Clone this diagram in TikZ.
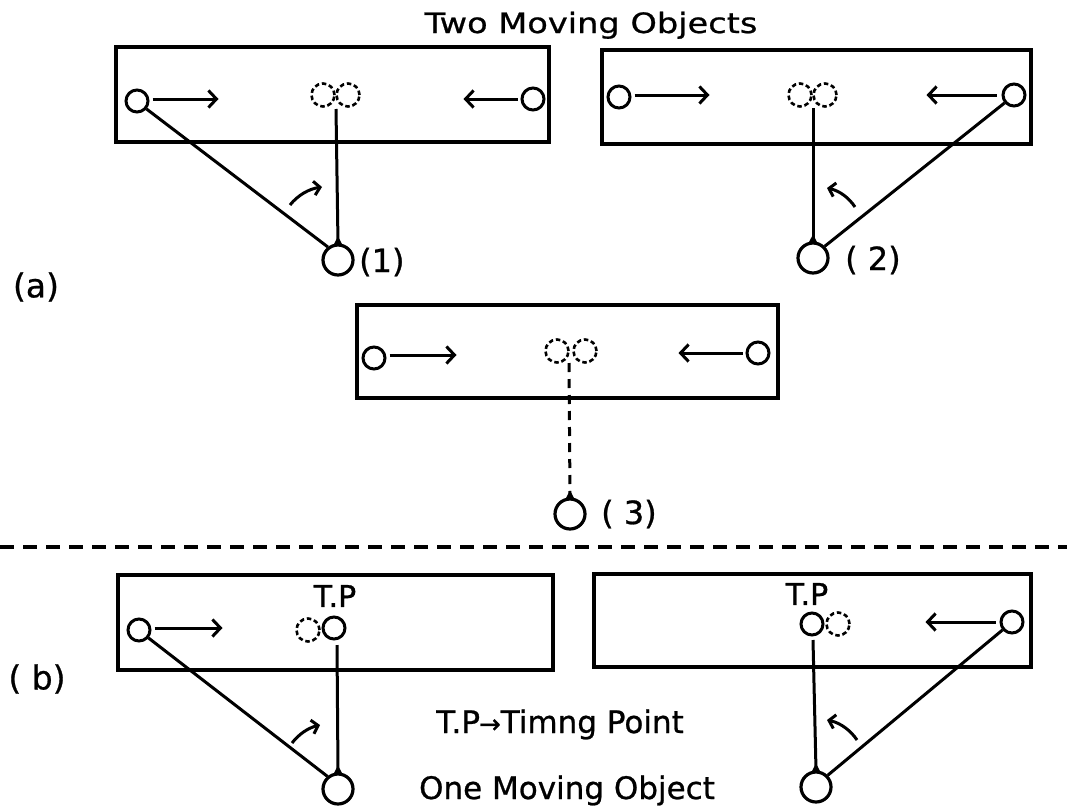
\documentclass[tikz,border=0pt]{standalone}
\usepackage{fontspec}
\setmainfont{DejaVu Sans}[FakeBold=0.8]
\newfontfamily\widefont{DejaVu Sans}[FakeStretch=1.2,FakeBold=0.8]
\usetikzlibrary{arrows.meta}
\begin{document}
\begin{tikzpicture}[x=1pt,y=-1pt,
  obj/.style={circle,draw,line width=3pt,minimum size=22pt,inner sep=0pt},
  ghost/.style={circle,draw,line width=2.6pt,dash pattern=on 4.5pt off 2.8pt,minimum size=23pt,inner sep=0pt},
  obs/.style={circle,draw,line width=3.2pt,minimum size=30pt,inner sep=0pt},
  frame/.style={draw,line width=3.4pt,line join=miter},
  ln/.style={line width=3pt},
  dln/.style={line width=3pt,dash pattern=on 9pt off 7pt},
  sep/.style={line width=3.2pt,dash pattern=on 14pt off 9pt},
  mv/.style={line width=3pt,-{Straight Barb[length=8pt,width=17pt,line width=3pt]}},
  turn/.style={line width=3pt,-{Straight Barb[length=6pt,width=14pt,line width=3pt]}},
  lbl/.style={inner sep=0pt,font=\fontsize{32}{32}\selectfont},
  txt/.style={inner sep=0pt,font=\fontsize{31}{31}\selectfont},
  cusp/.pic={\fill (-5,2.5) -- (0,-7) -- (5,2.5) -- cycle;}
]
\useasboundingbox (0,0) rectangle (1067,811);

% title
\node[inner sep=0pt,anchor=base,font=\widefont\fontsize{28}{28}\selectfont] (title) at (591,33) {Two Moving Objects};

% ---------- (a) box 1
\draw[frame] (116,47) rectangle (549,142);
\node[obj] (a1L) at (137,101) {};
\node[obj] (a1R) at (533,99) {};
\node[ghost] (a1g1) at (323,95) {};
\node[ghost] (a1g2) at (348,95) {};
\coordinate (a1m) at (336,109);
\node[obs] (a1B) at (338,260) {};
\pic at (a1B.north) {cusp};
\draw[mv] (a1L.east) ++(3,-2) -- ++(66,0);
\draw[mv] (a1R.west) ++(-3,0) -- ++(-54,0);
\draw[ln] (a1m) -- (a1B.north);
\draw[ln] (a1L.-40) -- (a1B.128);
\draw[turn] (290,205) .. controls (298,195) and (309,189) .. (322,187);
\node[lbl,anchor=west] (l1) at (359,262) {(1)};

% ---------- (a) box 2
\draw[frame] (602,50) rectangle (1031,144);
\node[obj] (a2L) at (619,97) {};
\node[obj] (a2R) at (1014,95) {};
\node[ghost] (a2g1) at (800,95) {};
\node[ghost] (a2g2) at (825,95) {};
\coordinate (a2m) at (813,108);
\node[obs] (a2B) at (813,258) {};
\pic at (a2B.north) {cusp};
\draw[mv] (a2L.east) ++(3,-2) -- ++(75,0);
\draw[mv] (a2R.west) ++(-5,0) -- ++(-70,0);
\draw[ln] (a2m) -- (a2B.north);
\draw[ln] (a2R.-140) -- (a2B.45);
\draw[turn] (855,207) .. controls (849,198) and (840,191) .. (827,188);
\node[lbl,anchor=west] (l2) at (845,260) {( 2)};

% (a) label
\node[inner sep=0pt,font=\fontsize{33}{33}\selectfont] (la) at (36,287) {(a)};

% ---------- (a) box 3
\draw[frame] (357,305) rectangle (778,398);
\node[obj] (a3L) at (374,358) {};
\node[obj] (a3R) at (758,353) {};
\node[ghost] (a3g1) at (557,351) {};
\node[ghost] (a3g2) at (585,351) {};
\coordinate (a3m) at (569,363);
\node[obs] (a3B) at (570,514) {};
\pic at (a3B.north) {cusp};
\draw[mv] (a3L.east) ++(3,-3) -- ++(67,0);
\draw[mv] (a3R.west) ++(-3,0) -- ++(-64,0);
\draw[dln] (a3m) -- (a3B.north);
\node[lbl,anchor=west] (l3) at (601,514) {( 3)};

% separator
\coordinate (sL) at (0,547);
\coordinate (sR) at (1067,547);
\draw[sep] (sL) -- (sR);

% ---------- (b) box 4
\draw[frame] (118,575) rectangle (553,670);
\node[obj] (b1L) at (139,630) {};
\node[ghost] (b1g) at (308,630) {};
\node[obj] (b1T) at (334,628) {};
\node[lbl,font=\fontsize{30}{30}\selectfont] (tp1) at (335,596) {T.P};
\coordinate (b1m) at (337,645);
\node[obs] (b1B) at (338,789) {};
\pic at (b1B.north) {cusp};
\draw[mv] (b1L.east) ++(3,-2) -- ++(68,0);
\draw[ln] (b1m) -- (b1B.north);
\draw[ln] (b1L.-40) -- (b1B.130);
\draw[turn] (292,743) .. controls (299,734) and (308,728) .. (320,725);

% ---------- (b) box 5
\draw[frame] (594,574) rectangle (1031,667);
\node[obj] (b2T) at (812,624) {};
\node[ghost] (b2g) at (838,624) {};
\node[obj] (b2R) at (1012,622) {};
\node[lbl,font=\fontsize{30}{30}\selectfont] (tp2) at (807,594) {T.P};
\coordinate (b2m) at (813,640);
\node[obs] (b2B) at (816,787) {};
\pic at (b2B.north) {cusp};
\draw[mv] (b2R.west) ++(-4,0) -- ++(-70,0);
\draw[ln] (b2m) -- (b2B.north);
\draw[ln] (b2R.-140) -- (b2B.45);
\draw[turn] (857,740) .. controls (851,731) and (841,723) .. (827,720);

% (b) label and texts
\node[inner sep=0pt,font=\fontsize{33}{33}\selectfont] (lb) at (37,679) {( b)};
\node[txt,anchor=base] (def) at (560,733) {T.P\kern-1pt\fontsize{26}{26}\selectfont→\fontsize{31}{31}\selectfont Timng Point};
\node[txt,anchor=base] (one) at (567,799) {One Moving Object};
\end{tikzpicture}
\end{document}
